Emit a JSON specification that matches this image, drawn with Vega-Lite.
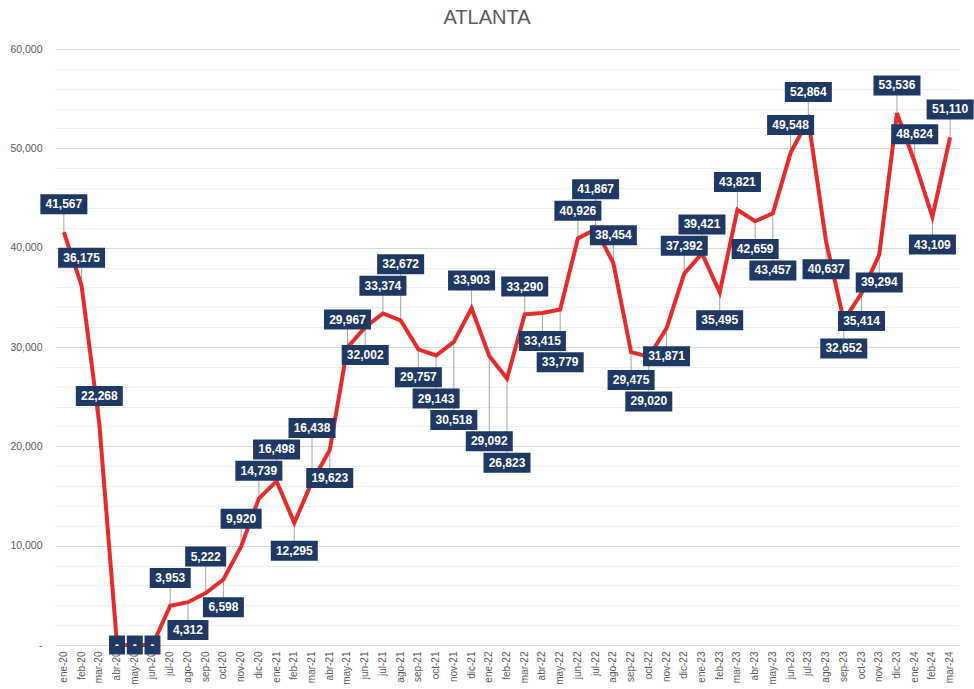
{
  "$schema": "https://vega.github.io/schema/vega-lite/v6.json",
  "width": 904,
  "height": 596,
  "autosize": {"type": "none"},
  "padding": {"left": 55, "top": 49, "right": 15, "bottom": 44},
  "background": "white",
  "title": {
    "text": "ATLANTA",
    "font": "Liberation Sans",
    "fontSize": 20,
    "fontWeight": "normal",
    "color": "#595959",
    "anchor": "middle",
    "frame": "group",
    "dx": -20,
    "offset": 16
  },
  "config": {
    "view": {"stroke": null},
    "font": "Liberation Sans",
    "axisY": {
      "title": null,
      "labelOverlap": false,
      "labelBound": false,
      "labelFontSize": 10.5,
      "labelColor": "#595959",
      "labelPadding": 13,
      "ticks": false,
      "domain": false,
      "grid": true,
      "gridWidth": 1
    }
  },
  "data": {
    "values": [
      {"mes": "ene-20", "valor": 41567},
      {"mes": "feb-20", "valor": 36175},
      {"mes": "mar-20", "valor": 22268},
      {"mes": "abr-20", "valor": 0},
      {"mes": "may-20", "valor": 0},
      {"mes": "jun-20", "valor": 0},
      {"mes": "jul-20", "valor": 3953},
      {"mes": "ago-20", "valor": 4312},
      {"mes": "sep-20", "valor": 5222},
      {"mes": "oct-20", "valor": 6598},
      {"mes": "nov-20", "valor": 9920},
      {"mes": "dic-20", "valor": 14739},
      {"mes": "ene-21", "valor": 16498},
      {"mes": "feb-21", "valor": 12295},
      {"mes": "mar-21", "valor": 16438},
      {"mes": "abr-21", "valor": 19623},
      {"mes": "may-21", "valor": 29967},
      {"mes": "jun-21", "valor": 32002},
      {"mes": "jul-21", "valor": 33374},
      {"mes": "ago-21", "valor": 32672},
      {"mes": "sep-21", "valor": 29757},
      {"mes": "oct-21", "valor": 29143},
      {"mes": "nov-21", "valor": 30518},
      {"mes": "dic-21", "valor": 33903},
      {"mes": "ene-22", "valor": 29092},
      {"mes": "feb-22", "valor": 26823},
      {"mes": "mar-22", "valor": 33290},
      {"mes": "abr-22", "valor": 33415},
      {"mes": "may-22", "valor": 33779},
      {"mes": "jun-22", "valor": 40926},
      {"mes": "jul-22", "valor": 41867},
      {"mes": "ago-22", "valor": 38454},
      {"mes": "sep-22", "valor": 29475},
      {"mes": "oct-22", "valor": 29020},
      {"mes": "nov-22", "valor": 31871},
      {"mes": "dic-22", "valor": 37392},
      {"mes": "ene-23", "valor": 39421},
      {"mes": "feb-23", "valor": 35495},
      {"mes": "mar-23", "valor": 43821},
      {"mes": "abr-23", "valor": 42659},
      {"mes": "may-23", "valor": 43457},
      {"mes": "jun-23", "valor": 49548},
      {"mes": "jul-23", "valor": 52864},
      {"mes": "ago-23", "valor": 40637},
      {"mes": "sep-23", "valor": 32652},
      {"mes": "oct-23", "valor": 35414},
      {"mes": "nov-23", "valor": 39294},
      {"mes": "dic-23", "valor": 53536},
      {"mes": "ene-24", "valor": 48624},
      {"mes": "feb-24", "valor": 43109},
      {"mes": "mar-24", "valor": 51110}
    ]
  },
  "transform": [
    {"window": [{"op": "row_number", "as": "n"}]},
    {"window": [{"op": "lag", "field": "valor", "as": "prev"}, {"op": "lead", "field": "valor", "as": "next"}], "sort": [{"field": "n"}]},
    {"calculate": "(datum.prev == null || datum.next == null) ? 99999 : datum.valor - (datum.prev + datum.next) / 2", "as": "curv"},
    {"calculate": "datum.valor == 0 ? 0 : (datum.curv > 1000 ? 1 : (datum.curv < -1000 ? -1 : (datum.n % 2 == 1 ? 1 : -1)))", "as": "s0"},
    {"calculate": "(datum.s0 == -1 && datum.valor - 2800 < 1200) ? 1 : datum.s0", "as": "s"},
    {"calculate": "datum.s == 0 ? 0 : datum.valor + datum.s * 2800", "as": "y0"},
    {"window": [{"op": "lag", "field": "y0", "as": "a1"}, {"op": "lag", "field": "y0", "param": 2, "as": "a2"}, {"op": "lag", "field": "s", "as": "s1"}, {"op": "lag", "field": "s", "param": 2, "as": "s2"}], "sort": [{"field": "n"}]},
    {"calculate": "datum.s == 1 ? max(datum.y0, (datum.s1 == 1 && abs(datum.y0 - datum.a1) < 2150) ? datum.a1 + 2150 : datum.y0, (datum.s2 == 1 && abs(datum.y0 - datum.a2) < 2150) ? datum.a2 + 2150 : datum.y0) : (datum.s == -1 ? min(datum.y0, (datum.s1 == -1 && abs(datum.y0 - datum.a1) < 2150) ? datum.a1 - 2150 : datum.y0, (datum.s2 == -1 && abs(datum.y0 - datum.a2) < 2150) ? datum.a2 - 2150 : datum.y0) : datum.y0)", "as": "y1"},
    {"window": [{"op": "lag", "field": "y1", "as": "b1"}, {"op": "lag", "field": "y1", "param": 2, "as": "b2"}], "sort": [{"field": "n"}]},
    {"calculate": "datum.s == 1 ? max(datum.y1, (datum.s1 == 1 && abs(datum.y1 - datum.b1) < 2150) ? datum.b1 + 2150 : datum.y1, (datum.s2 == 1 && abs(datum.y1 - datum.b2) < 2150) ? datum.b2 + 2150 : datum.y1) : (datum.s == -1 ? min(datum.y1, (datum.s1 == -1 && abs(datum.y1 - datum.b1) < 2150) ? datum.b1 - 2150 : datum.y1, (datum.s2 == -1 && abs(datum.y1 - datum.b2) < 2150) ? datum.b2 - 2150 : datum.y1) : datum.y1)", "as": "y2"},
    {"window": [{"op": "lag", "field": "y2", "as": "c1"}, {"op": "lag", "field": "y2", "param": 2, "as": "c2"}], "sort": [{"field": "n"}]},
    {"calculate": "datum.s == 1 ? max(datum.y2, (datum.s1 == 1 && abs(datum.y2 - datum.c1) < 2150) ? datum.c1 + 2150 : datum.y2, (datum.s2 == 1 && abs(datum.y2 - datum.c2) < 2150) ? datum.c2 + 2150 : datum.y2) : (datum.s == -1 ? min(datum.y2, (datum.s1 == -1 && abs(datum.y2 - datum.c1) < 2150) ? datum.c1 - 2150 : datum.y2, (datum.s2 == -1 && abs(datum.y2 - datum.c2) < 2150) ? datum.c2 - 2150 : datum.y2) : datum.y2)", "as": "y3"},
    {"window": [{"op": "lag", "field": "y3", "as": "d1"}, {"op": "lag", "field": "y3", "param": 2, "as": "d2"}], "sort": [{"field": "n"}]},
    {"calculate": "datum.s == 1 ? max(datum.y3, (datum.s1 == 1 && abs(datum.y3 - datum.d1) < 2150) ? datum.d1 + 2150 : datum.y3, (datum.s2 == 1 && abs(datum.y3 - datum.d2) < 2150) ? datum.d2 + 2150 : datum.y3) : (datum.s == -1 ? min(datum.y3, (datum.s1 == -1 && abs(datum.y3 - datum.d1) < 2150) ? datum.d1 - 2150 : datum.y3, (datum.s2 == -1 && abs(datum.y3 - datum.d2) < 2150) ? datum.d2 - 2150 : datum.y3) : datum.y3)", "as": "yEtiqueta"},
    {"calculate": "datum.valor == 0 ? '-' : format(datum.valor, ',')", "as": "texto"}
  ],
  "encoding": {
    "x": {
      "field": "mes",
      "type": "nominal",
      "sort": {"field": "n", "op": "min"},
      "scale": {"type": "band", "paddingInner": 0, "paddingOuter": 0},
      "axis": {
        "title": null,
        "labelAngle": 270,
        "labelAlign": "right",
        "labelBaseline": "middle",
        "labelFontSize": 10,
        "labelColor": "#595959",
        "labelPadding": 6,
        "ticks": false,
        "domain": true,
        "domainColor": "#d9d9d9",
        "grid": false
      }
    }
  },
  "layer": [
    {
      "transform": [{"filter": "datum.valor != 0"}],
      "mark": {"type": "rule", "color": "#a6a6a6", "strokeWidth": 1},
      "encoding": {
        "y": {
          "field": "valor", "type": "quantitative", "title": null,
          "scale": {"domain": [0, 60000], "nice": false},
          "axis": {"values": [0, 2000, 4000, 6000, 8000, 10000, 12000, 14000, 16000, 18000, 20000, 22000, 24000, 26000, 28000, 30000, 32000, 34000, 36000, 38000, 40000, 42000, 44000, 46000, 48000, 50000, 52000, 54000, 56000, 58000, 60000], "labelExpr": "datum.value == 0 ? '-' : (datum.value % 10000 == 0 ? format(datum.value, ',') : '')", "gridColor": {"condition": {"test": "datum.value % 10000 == 0", "value": "#d9d9d9"}, "value": "#efefef"}}
        },
        "y2": {"field": "yEtiqueta"}
      }
    },
    {
      "mark": {"type": "line", "color": "#e62b2b", "strokeWidth": 4, "strokeJoin": "miter"},
      "encoding": {
        "y": {
          "field": "valor", "type": "quantitative", "title": null,
          "scale": {"domain": [0, 60000], "nice": false},
          "axis": {"values": [0, 2000, 4000, 6000, 8000, 10000, 12000, 14000, 16000, 18000, 20000, 22000, 24000, 26000, 28000, 30000, 32000, 34000, 36000, 38000, 40000, 42000, 44000, 46000, 48000, 50000, 52000, 54000, 56000, 58000, 60000], "labelExpr": "datum.value == 0 ? '-' : (datum.value % 10000 == 0 ? format(datum.value, ',') : '')", "gridColor": {"condition": {"test": "datum.value % 10000 == 0", "value": "#d9d9d9"}, "value": "#efefef"}}
        }
      }
    },
    {
      "transform": [{"filter": "length(datum.texto) == 6"}],
      "mark": {"type": "rect", "color": "#1f3864", "width": 47, "height": 20},
      "encoding": {
        "y": {
          "field": "yEtiqueta", "type": "quantitative", "title": null,
          "scale": {"domain": [0, 60000], "nice": false},
          "axis": {"values": [0, 2000, 4000, 6000, 8000, 10000, 12000, 14000, 16000, 18000, 20000, 22000, 24000, 26000, 28000, 30000, 32000, 34000, 36000, 38000, 40000, 42000, 44000, 46000, 48000, 50000, 52000, 54000, 56000, 58000, 60000], "labelExpr": "datum.value == 0 ? '-' : (datum.value % 10000 == 0 ? format(datum.value, ',') : '')", "gridColor": {"condition": {"test": "datum.value % 10000 == 0", "value": "#d9d9d9"}, "value": "#efefef"}}
        }
      }
    },
    {
      "transform": [{"filter": "length(datum.texto) == 5"}],
      "mark": {"type": "rect", "color": "#1f3864", "width": 41, "height": 20},
      "encoding": {
        "y": {
          "field": "yEtiqueta", "type": "quantitative", "title": null,
          "scale": {"domain": [0, 60000], "nice": false},
          "axis": {"values": [0, 2000, 4000, 6000, 8000, 10000, 12000, 14000, 16000, 18000, 20000, 22000, 24000, 26000, 28000, 30000, 32000, 34000, 36000, 38000, 40000, 42000, 44000, 46000, 48000, 50000, 52000, 54000, 56000, 58000, 60000], "labelExpr": "datum.value == 0 ? '-' : (datum.value % 10000 == 0 ? format(datum.value, ',') : '')", "gridColor": {"condition": {"test": "datum.value % 10000 == 0", "value": "#d9d9d9"}, "value": "#efefef"}}
        }
      }
    },
    {
      "transform": [{"filter": "datum.texto == '-'"}],
      "mark": {"type": "rect", "color": "#1f3864", "width": 16, "height": 19},
      "encoding": {
        "y": {
          "field": "yEtiqueta", "type": "quantitative", "title": null,
          "scale": {"domain": [0, 60000], "nice": false},
          "axis": {"values": [0, 2000, 4000, 6000, 8000, 10000, 12000, 14000, 16000, 18000, 20000, 22000, 24000, 26000, 28000, 30000, 32000, 34000, 36000, 38000, 40000, 42000, 44000, 46000, 48000, 50000, 52000, 54000, 56000, 58000, 60000], "labelExpr": "datum.value == 0 ? '-' : (datum.value % 10000 == 0 ? format(datum.value, ',') : '')", "gridColor": {"condition": {"test": "datum.value % 10000 == 0", "value": "#d9d9d9"}, "value": "#efefef"}}
        }
      }
    },
    {
      "mark": {"type": "text", "color": "white", "fontWeight": "bold", "fontSize": 12, "align": "center", "baseline": "middle"},
      "encoding": {
        "y": {
          "field": "yEtiqueta", "type": "quantitative", "title": null,
          "scale": {"domain": [0, 60000], "nice": false},
          "axis": {"values": [0, 2000, 4000, 6000, 8000, 10000, 12000, 14000, 16000, 18000, 20000, 22000, 24000, 26000, 28000, 30000, 32000, 34000, 36000, 38000, 40000, 42000, 44000, 46000, 48000, 50000, 52000, 54000, 56000, 58000, 60000], "labelExpr": "datum.value == 0 ? '-' : (datum.value % 10000 == 0 ? format(datum.value, ',') : '')", "gridColor": {"condition": {"test": "datum.value % 10000 == 0", "value": "#d9d9d9"}, "value": "#efefef"}}
        },
        "text": {"field": "texto"}
      }
    }
  ]
}
